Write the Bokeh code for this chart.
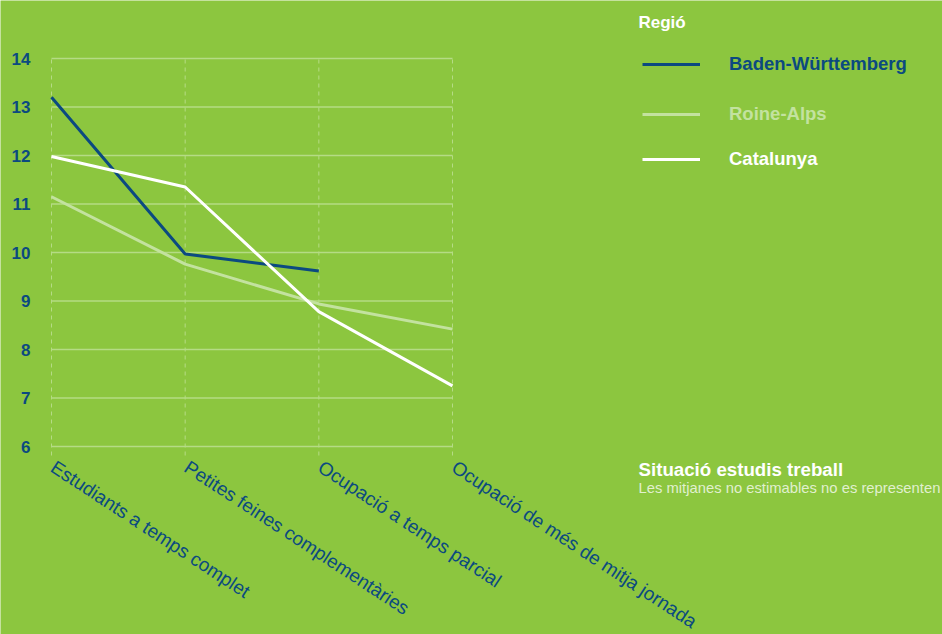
from bokeh.plotting import figure
from bokeh.models import Range1d, Legend, LegendItem, Label
from bokeh.core.properties import value
from bokeh.embed import file_html
from bokeh.resources import INLINE

categories = ["Estudiants a temps complet", "Petites feines complementàries",
              "Ocupació a temps parcial", "Ocupació de més de mitja jornada"]
baden = [13.2, 9.97, 9.62, float("nan")]
roine = [11.15, 9.76, 8.94, 8.42]
catalunya = [11.98, 11.35, 8.78, 7.25]
y_ticks = [6, 7, 8, 9, 10, 11, 12, 13, 14]
series_names = ["Baden-Württemberg", "Roine-Alps", "Catalunya"]

BG = "#8cc63f"
DARK = "#0b4a80"
PALE = "#c3e29f"
GRID = "#b5db85"
FONT = "Liberation Sans"

W, H = 942, 634
# plot area in pixels: x 51..452, y 58..446
PX_L, PX_R, PX_T, PX_B = 51, 452, 58, 446
xs = list(range(len(categories)))
x0, x1 = xs[0], xs[-1]
y0, y1 = y_ticks[0], y_ticks[-1]
sx = (PX_R - PX_L) / (x1 - x0)
sy = (PX_B - PX_T) / (y1 - y0)

p = figure(width=W, height=H, output_backend="svg", toolbar_location=None,
           x_axis_type=None, y_axis_type=None,
           x_range=Range1d(x0 - PX_L / sx, x1 + (W - PX_R) / sx),
           y_range=Range1d(y0 - (H - PX_B) / sy, y1 + PX_T / sy),
           min_border=0)
p.background_fill_color = BG
p.border_fill_color = BG
p.outline_line_color = None

# grid lines
p.segment(x0=xs, y0=[y0 - 9 / sy] * len(xs), x1=xs, y1=[y1] * len(xs),
          line_color=GRID, line_dash="4 4", line_width=1)
p.segment(x0=[x0] * len(y_ticks), y0=y_ticks, x1=[x1] * len(y_ticks), y1=y_ticks,
          line_color=GRID, line_width=1.5)

# y tick labels
p.text(x=[x0] * len(y_ticks), y=y_ticks, text=[str(t) for t in y_ticks],
       x_offset=-21, text_align="right", text_baseline="middle",
       text_color=DARK, text_font=value(FONT), text_font_style="bold",
       text_font_size="17px")

# x tick labels (rotated)
p.text(x=xs, y=[y0] * len(xs), text=categories, angle=-0.58,
       x_offset=7, y_offset=10, text_align="left", text_baseline="top",
       text_color=DARK, text_font=value(FONT), text_font_size="19px")

r1 = p.line(xs, baden, line_color=DARK, line_width=3)
r2 = p.line(xs, roine, line_color=PALE, line_width=3)
r3 = p.line(xs, catalunya, line_color="white", line_width=3)

renderers = [r1, r2, r3]
colors = [DARK, PALE, "white"]
centers = [65, 115, 160]
for name, r, c, cy in zip(series_names, renderers, colors, centers):
    lg = Legend(items=[LegendItem(label=name, renderers=[r])],
                location=(642, H - (cy + 10)),
                padding=0, margin=0, spacing=0,
                glyph_width=58, glyph_height=20, label_height=20,
                label_standoff=29,
                label_text_color=c, label_text_font=FONT,
                label_text_font_style="bold", label_text_font_size="18.5px",
                border_line_color=None, background_fill_alpha=0)
    p.add_layout(lg, "center")

p.add_layout(Label(x=638, y=H - 22, x_units="screen", y_units="screen", text="Regió",
                   text_color="white", text_font=FONT, text_font_style="bold",
                   text_font_size="17px", text_baseline="alphabetic"))
p.add_layout(Label(x=638, y=H - 469, x_units="screen", y_units="screen",
                   text="Situació estudis treball",
                   text_color="white", text_font=FONT, text_font_style="bold",
                   text_font_size="18.7px", text_baseline="alphabetic"))
p.add_layout(Label(x=638, y=H - 487, x_units="screen", y_units="screen",
                   text="Les mitjanes no estimables no es representen",
                   text_color="white", text_alpha=0.75, text_font=FONT,
                   text_font_size="14.8px", text_baseline="alphabetic"))

open("out.html", "w").write(file_html(p, INLINE))
